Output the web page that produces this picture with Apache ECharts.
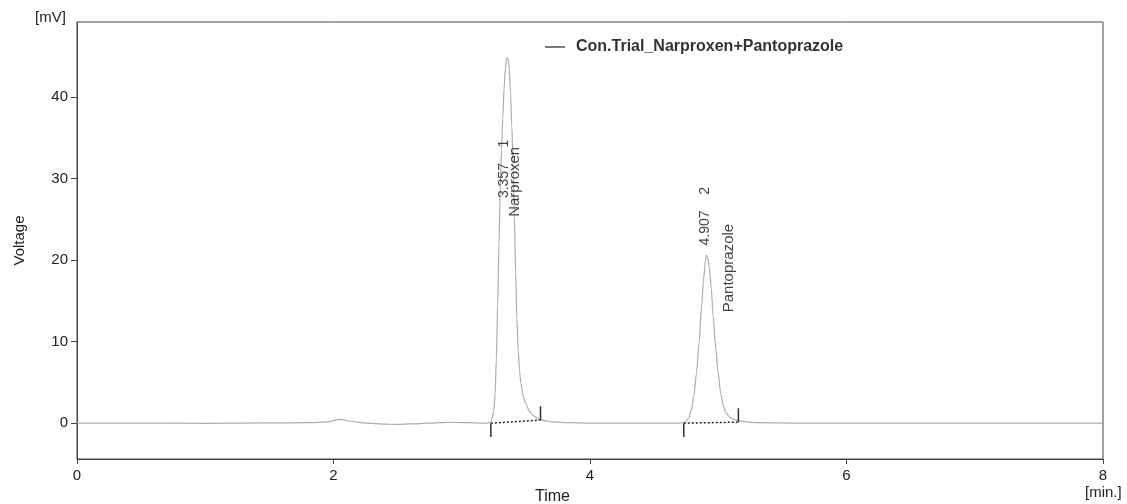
<!DOCTYPE html>
<html>
<head>
<meta charset="utf-8">
<title>Con.Trial_Narproxen+Pantoprazole</title>
<script src="https://cdn.jsdelivr.net/npm/echarts@6/dist/echarts.min.js"></script>
<style>
  html, body { margin: 0; padding: 0; background: #fff; }
  #chart { width: 1127px; height: 504px; }
</style>
</head>
<body>
<div id="chart"></div>
<script>
// chromatogram: time [min.] and voltage [mV]
var traceTime = [
  0, 0.5, 1.0, 1.5, 1.8, 1.95, 2.05, 2.15, 2.25, 2.4, 2.5, 2.6, 2.75, 2.9, 3.05, 3.15,
  3.20, 3.23, 3.25, 3.26, 3.27, 3.28, 3.29, 3.30, 3.31, 3.32, 3.33, 3.34, 3.35, 3.357,
  3.365, 3.37, 3.38, 3.39, 3.40, 3.41, 3.42, 3.43, 3.44, 3.45, 3.46, 3.48, 3.50, 3.53,
  3.56, 3.60, 3.65, 3.70, 3.85, 4.0, 4.3, 4.6,
  4.70, 4.74, 4.77, 4.79, 4.81, 4.83, 4.85, 4.87, 4.885, 4.90, 4.907, 4.915, 4.93,
  4.945, 4.96, 4.98, 5.00, 5.02, 5.04, 5.06, 5.09, 5.12, 5.16, 5.22, 5.30,
  5.6, 6.0, 6.5, 7.0, 7.5, 8.0
]
var traceVoltage = [
  0, 0, -0.02, 0.02, 0.05, 0.15, 0.45, 0.2, 0.0, -0.12, -0.15, -0.1, 0.0, 0.1, 0.05, 0.0,
  0.0, 0.2, 1.5, 3.5, 8, 14.5, 22, 28.5, 33.5, 37.5, 41, 43.5, 44.7, 44.8,
  44.3, 43.5, 40.5, 36.5, 32, 25.5, 18.5, 12.8, 9, 6.5, 5, 3.2, 2.3, 1.4,
  0.9, 0.5, 0.3, 0.15, 0.05, 0, 0, 0,
  0.0, 0.1, 0.6, 1.6, 3.4, 6.1, 9.8, 14.3, 17.5, 20.0, 20.6, 20.4, 19.2,
  16.6, 13.2, 9.3, 6.0, 3.6, 2.1, 1.3, 0.7, 0.45, 0.3, 0.15, 0.05,
  0, 0, 0, 0, 0, 0
]

// integration marks per peak
var peakStart = [3.227, 4.731]
var peakEnd = [3.614, 5.157]
var peakEndLevel = [0.37, 0.12]
var peakTime = ['3.357', '4.907']
var peakNumber = ['1', '2']
var peakName = ['Narproxen', 'Pantoprazole']
// where the rotated labels sit: [time, voltage]
var idLabelAt = [[3.33, 27.6], [4.895, 21.8]]
var nameLabelAt = [[3.415, 25.3], [5.08, 13.6]]

var xTicks = [0, 2, 4, 6, 8]
var yTicks = [0, 10, 20, 30, 40]

var seriesName = 'Con.Trial_Narproxen+Pantoprazole'
var textFont = '"Liberation Sans", Arial, sans-serif'

var chart = echarts.init(document.getElementById('chart'))

var traceData = traceTime.map(function (t, i) {
  return [t, traceVoltage[i]]
})

var series = [
  {
    name: seriesName,
    type: 'line',
    data: traceData,
    symbol: 'none',
    smooth: 0.25,
    smoothMonotone: 'x',
    lineStyle: { color: '#acacac', width: 1.2 },
    z: 2
  }
]

peakStart.forEach(function (s, i) {
  // dotted baseline under the peak
  series.push({
    type: 'line',
    data: [[s, 0], [peakEnd[i], peakEndLevel[i]]],
    symbol: 'none',
    lineStyle: { color: '#222', width: 1.5, type: [2, 2] },
    z: 3
  })
  // start mark, downwards
  series.push({
    type: 'line',
    data: [[s, 0], [s, -1.7]],
    symbol: 'none',
    lineStyle: { color: '#333', width: 1.5 },
    z: 3
  })
  // end mark, upwards
  series.push({
    type: 'line',
    data: [[peakEnd[i], peakEndLevel[i]], [peakEnd[i], peakEndLevel[i] + 1.7]],
    symbol: 'none',
    lineStyle: { color: '#333', width: 1.5 },
    z: 3
  })
})

// rotated peak labels
var labelData = []
peakTime.forEach(function (t, i) {
  labelData.push({ value: idLabelAt[i], label: { formatter: t + '    ' + peakNumber[i], fontSize: 14 } })
  labelData.push({ value: nameLabelAt[i], label: { formatter: peakName[i], fontSize: 15 } })
})
series.push({
  type: 'scatter',
  data: labelData,
  symbolSize: 0,
  silent: true,
  label: {
    show: true,
    position: [0, 0],
    rotate: 90,
    align: 'left',
    verticalAlign: 'middle',
    color: '#111',
    fontFamily: textFont
  },
  z: 4
})

var option = {
  animation: false,
  backgroundColor: '#fff',
  textStyle: { fontFamily: textFont },
  grid: {
    left: 77,
    right: 24,
    top: 22,
    bottom: 45,
    show: true,
    borderColor: '#444',
    borderWidth: 1
  },
  legend: {
    data: [seriesName],
    left: 540,
    top: 34,
    icon: 'rect',
    itemWidth: 20,
    itemHeight: 1.2,
    itemStyle: { color: '#222' },
    textStyle: {
      color: '#333',
      fontSize: 16,
      fontWeight: 'bold',
      fontFamily: textFont,
      padding: [0, 0, 0, 6]
    }
  },
  xAxis: {
    type: 'value',
    min: 0,
    max: 8,
    axisLine: { onZero: false, lineStyle: { color: '#444', width: 1 } },
    axisTick: { show: true, length: 5, customValues: xTicks, lineStyle: { color: '#444' } },
    axisLabel: {
      customValues: xTicks,
      color: '#222',
      fontSize: 15,
      margin: 9,
      fontFamily: textFont
    },
    splitLine: { show: false }
  },
  yAxis: {
    type: 'value',
    min: -4.4,
    max: 49.2,
    name: 'Voltage',
    nameLocation: 'middle',
    nameGap: 50,
    nameTextStyle: { color: '#222', fontSize: 15, fontFamily: textFont },
    axisLine: { show: true, lineStyle: { color: '#444', width: 1 } },
    axisTick: { show: true, length: 6, customValues: yTicks, lineStyle: { color: '#444' } },
    axisLabel: {
      customValues: yTicks,
      color: '#222',
      fontSize: 15,
      margin: 9,
      fontFamily: textFont
    },
    splitLine: { show: false }
  },
  graphic: [
    {
      type: 'text',
      left: 35,
      top: 10,
      style: { text: '[mV]', fill: '#222', font: '15px ' + textFont }
    },
    {
      type: 'text',
      left: 535,
      top: 489,
      style: { text: 'Time', fill: '#222', font: '16px ' + textFont }
    },
    {
      type: 'text',
      left: 1085,
      top: 485,
      style: { text: '[min.]', fill: '#222', font: '15px ' + textFont }
    }
  ],
  series: series
}

chart.setOption(option)
</script>
</body>
</html>
